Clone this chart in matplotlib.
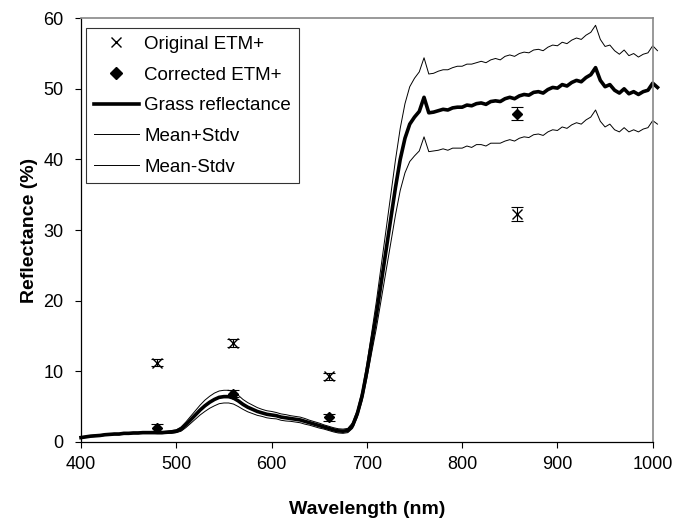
import numpy as np
import matplotlib.pyplot as plt
from matplotlib.lines import Line2D

plt.rcParams['font.family'] = ['Liberation Sans', 'DejaVu Sans']

# Grass spectrum, sampled every 5 nm
wavelength = np.arange(400, 1006, 5)
grass_mean = [
    0.6, 0.7, 0.8, 0.85, 0.9, 1.0, 1.05, 1.1, 1.1, 1.2,
    1.2, 1.25, 1.25, 1.3, 1.3, 1.3, 1.3, 1.3, 1.35, 1.4,
    1.5, 1.8, 2.4, 3.1, 3.8, 4.5, 5.1, 5.6, 6.0, 6.3,
    6.4, 6.4, 6.2, 5.8, 5.3, 4.9, 4.6, 4.3, 4.1, 3.9,
    3.8, 3.7, 3.5, 3.4, 3.3, 3.2, 3.1, 2.9, 2.7, 2.5,
    2.3, 2.1, 1.9, 1.7, 1.55, 1.5, 1.6, 2.3, 4.0, 6.5,
    10.0, 14.0, 18.0, 22.5, 27.0, 31.5, 36.0, 40.0, 43.0, 45.0,
    46.0, 46.8, 48.8, 46.6, 46.7, 46.9, 47.1, 47.0, 47.3, 47.4,
    47.4, 47.7, 47.6, 47.9, 48.0, 47.8, 48.2, 48.3, 48.2, 48.6,
    48.8, 48.6, 49.0, 49.2, 49.1, 49.5, 49.6, 49.4, 49.9, 50.2,
    50.1, 50.6, 50.4, 50.9, 51.2, 51.0, 51.6, 52.0, 53.0, 51.2,
    50.3, 50.6, 49.8, 49.4, 50.0, 49.3, 49.6, 49.2, 49.6, 49.8,
    50.8, 50.2,
]
grass_std = [
    0.1, 0.1, 0.1, 0.1, 0.1, 0.1, 0.1, 0.1, 0.1, 0.1,
    0.1, 0.1, 0.1, 0.1, 0.1, 0.1, 0.15, 0.15, 0.15, 0.2,
    0.2, 0.3, 0.4, 0.5, 0.6, 0.7, 0.8, 0.85, 0.9, 0.9,
    0.9, 0.9, 0.85, 0.8, 0.7, 0.65, 0.6, 0.55, 0.5, 0.5,
    0.5, 0.45, 0.45, 0.45, 0.4, 0.4, 0.4, 0.4, 0.35, 0.35,
    0.35, 0.3, 0.3, 0.3, 0.3, 0.3, 0.3, 0.4, 0.5, 0.7,
    1.0, 1.4, 1.9, 2.4, 2.9, 3.4, 3.9, 4.4, 4.9, 5.3,
    5.5, 5.6, 5.6, 5.5, 5.5, 5.6, 5.6, 5.7, 5.7, 5.8,
    5.8, 5.8, 5.9, 5.8, 5.9, 5.9, 5.9, 6.0, 5.9, 6.0,
    6.0, 6.0, 6.0, 6.0, 6.0, 6.0, 6.0, 6.0, 6.0, 6.0,
    6.0, 6.0, 6.0, 6.0, 6.0, 6.0, 6.0, 6.0, 6.0, 5.8,
    5.7, 5.6, 5.6, 5.5, 5.5, 5.4, 5.4, 5.3, 5.3, 5.3,
    5.3, 5.2,
]
grass_mean = np.array(grass_mean)
grass_std = np.array(grass_std)

# ETM+ band centres and band-averaged reflectance
band_centre = [480, 560, 660, 858]
original_etm = [11.2, 14.0, 9.3, 32.3]
original_err = [0.5, 0.5, 0.5, 1.0]
corrected_etm = [2.0, 6.8, 3.5, 46.5]
corrected_err = [0.5, 0.5, 0.5, 0.9]

fig = plt.figure(figsize=(6.75, 5.21), dpi=100)
ax = fig.add_axes([0.12, 0.152, 0.847, 0.813])

ax.plot(wavelength, grass_mean + grass_std, color='black', lw=0.7, clip_on=False)
ax.plot(wavelength, grass_mean - grass_std, color='black', lw=0.7, clip_on=False)
ax.plot(wavelength, grass_mean, color='black', lw=2.6, clip_on=False)

ax.errorbar(band_centre, original_etm, yerr=original_err, fmt='none',
            ecolor='black', elinewidth=0.8, capsize=4, capthick=0.8)
ax.errorbar(band_centre, corrected_etm, yerr=corrected_err, fmt='none',
            ecolor='black', elinewidth=0.8, capsize=4, capthick=0.8)
ax.plot(band_centre, original_etm, 'x', color='black', ms=7, mew=1.0)
ax.plot(band_centre, corrected_etm, 'D', color='black', ms=5.5)

ax.set_xlim(400, 1000)
ax.set_ylim(0, 60)
ax.set_xticks(range(400, 1001, 100))
ax.set_yticks(range(0, 61, 10))
ax.tick_params(labelsize=13, length=4.5, width=0.8, direction='out')
ax.tick_params(axis='y', pad=8)
ax.tick_params(axis='x', pad=6)
for s in ['top', 'right']:
    ax.spines[s].set_color('#888888')
    ax.spines[s].set_linewidth(1.2)
for s in ['left', 'bottom']:
    ax.spines[s].set_linewidth(0.9)

ax.set_xlabel('Wavelength (nm)', fontsize=14, fontweight='bold', labelpad=20)
ax.set_ylabel('Reflectance (%)', fontsize=14, fontweight='bold', labelpad=4)

handles = [
    Line2D([], [], ls='none', marker='x', color='black', ms=7, mew=1.0),
    Line2D([], [], ls='none', marker='D', color='black', ms=6),
    Line2D([], [], color='black', lw=2.6),
    Line2D([], [], color='black', lw=0.7),
    Line2D([], [], color='black', lw=0.7),
]
labels = ['Original ETM+', 'Corrected ETM+', 'Grass reflectance',
          'Mean+Stdv', 'Mean-Stdv']
leg = ax.legend(handles, labels, loc='upper left', bbox_to_anchor=(0.009, 0.976),
                fontsize=13.5, frameon=True, fancybox=False, edgecolor='black',
                handlelength=2.4, handletextpad=0.3, labelspacing=0.72,
                borderpad=0.4, borderaxespad=0.0)
leg.get_frame().set_linewidth(0.8)

fig.savefig('out.png', dpi=100)
